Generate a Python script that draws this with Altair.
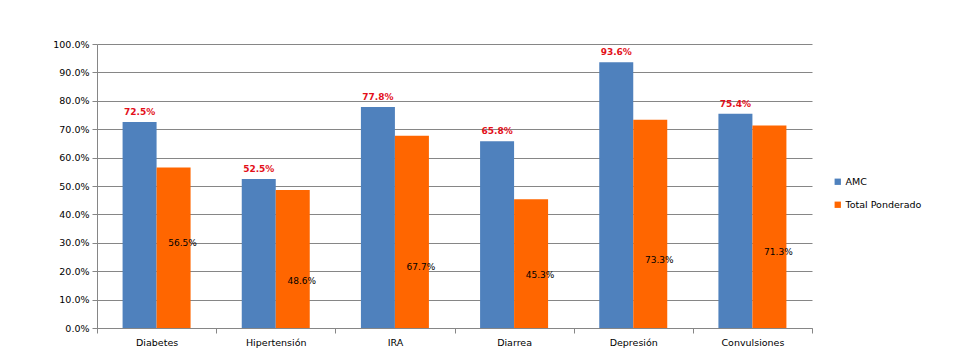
import altair as alt
import pandas as pd

categories = ["Diabetes", "Hipertensión", "IRA", "Diarrea", "Depresión", "Convulsiones"]
series = ["AMC", "Total Ponderado"]
amc = [0.725, 0.525, 0.778, 0.658, 0.936, 0.754]
ponderado = [0.565, 0.486, 0.677, 0.453, 0.733, 0.713]
# heights (in axis units) where the Total Ponderado labels sit in the original
ponderado_label_at = [0.298, 0.165, 0.214, 0.186, 0.239, 0.267]
y_ticks = [round(i / 10, 1) for i in range(11)]

rows = []
for c, a, p, la in zip(categories, amc, ponderado, ponderado_label_at):
    rows.append({"cat": c, "series": "AMC", "value": a, "label_at": a})
    rows.append({"cat": c, "series": "Total Ponderado", "value": p, "label_at": la})
df = pd.DataFrame(rows)

FONT = "DejaVu Sans"
GRID = "#868686"

x_scale = alt.Scale(paddingInner=0, paddingOuter=0)
xo_scale = alt.Scale(domain=series, paddingInner=0, paddingOuter=0.7525)
y_scale = alt.Scale(domain=[0, 1], nice=False)

x_axis = alt.Axis(
    title=None, labelAngle=0, tickBand="extent", ticks=True, tickSize=5,
    tickColor=GRID, domainColor=GRID, labelPadding=4,
    labelFont=FONT, labelFontSize=9.5, labelColor="#000000",
)
y_axis = alt.Axis(
    title=None, format=".1%", values=y_ticks, grid=True, gridColor=GRID,
    gridWidth=1, tickSize=5, tickColor=GRID, domainColor=GRID,
    labelPadding=3, labelFont=FONT, labelFontSize=9.5, labelColor="#000000",
    labelOverlap=False,
)

bars = alt.Chart(df).mark_bar().encode(
    x=alt.X("cat:N", sort=categories, scale=x_scale, axis=x_axis),
    xOffset=alt.XOffset("series:N", sort=series, scale=xo_scale),
    y=alt.Y("value:Q", scale=y_scale, axis=y_axis),
    color=alt.Color(
        "series:N",
        sort=series,
        scale=alt.Scale(domain=series, range=["#4F81BD", "#FF6600"]),
        legend=alt.Legend(
            title=None, orient="none", legendX=736, legendY=133,
            symbolType="square", symbolSize=40, symbolStrokeWidth=0,
            labelFont=FONT, labelFontSize=9.5, labelColor="#000000",
            rowPadding=12, labelOffset=3,
        ),
    ),
)

amc_labels = alt.Chart(df).transform_filter(
    alt.datum.series == "AMC"
).mark_text(
    color="#E3101A", font=FONT, fontSize=9, fontWeight="bold",
    baseline="bottom", dy=-5,
).encode(
    x=alt.X("cat:N", sort=categories, scale=x_scale, axis=x_axis),
    xOffset=alt.XOffset("series:N", sort=series, scale=xo_scale),
    y=alt.Y("value:Q", scale=y_scale, axis=y_axis),
    text=alt.Text("value:Q", format=".1%"),
)

pond_labels = alt.Chart(df).transform_filter(
    alt.datum.series == "Total Ponderado"
).mark_text(
    color="#000000", font=FONT, fontSize=9, baseline="middle", dx=9,
).encode(
    x=alt.X("cat:N", sort=categories, scale=x_scale, axis=x_axis),
    xOffset=alt.XOffset("series:N", sort=series, scale=xo_scale),
    y=alt.Y("label_at:Q", scale=y_scale, axis=y_axis),
    text=alt.Text("value:Q", format=".1%"),
)

chart = alt.layer(bars, amc_labels, pond_labels).properties(
    width=715,
    height=284,
    background="#ffffff",
    autosize=alt.AutoSizeParams(type="none"),
    padding={"left": 89, "top": 36, "right": 140, "bottom": 26},
).configure_view(stroke=None)

chart.save("out.html", embed_options={"renderer": "svg", "actions": False})
